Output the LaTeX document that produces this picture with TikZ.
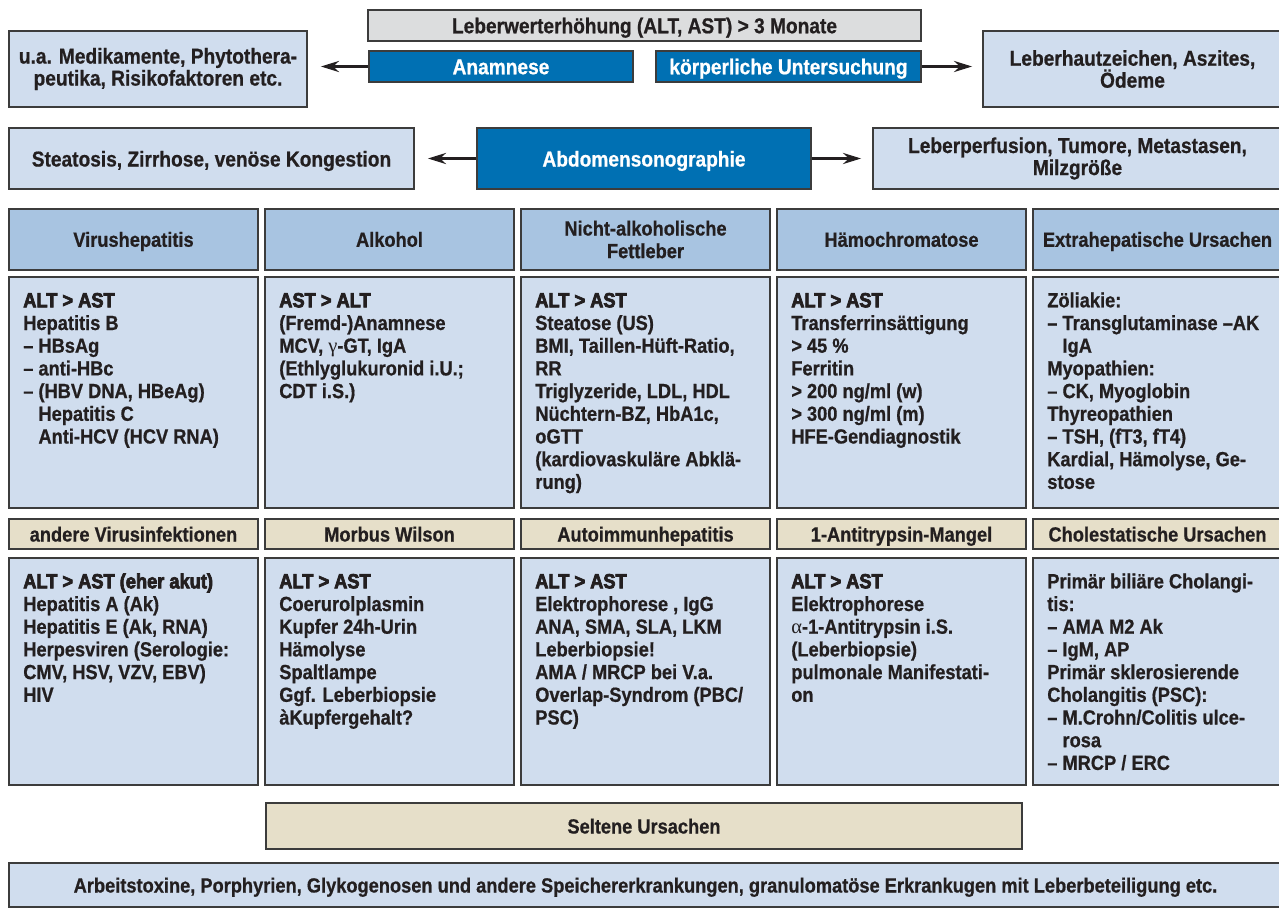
\documentclass[tikz,border=0pt]{standalone}
\usepackage{fontspec}
\setmainfont{Liberation Sans}[FakeStretch=0.89,BoldFeatures={FakeBold=0.7}]
\newfontfamily\heavy{Liberation Sans}[FakeStretch=0.89,UprightFont=* Bold,FakeBold=3.5]
\newfontfamily\grk{Liberation Serif}
\usetikzlibrary{arrows.meta,calc}
\definecolor{lblue}{HTML}{D0DDEE}
\definecolor{hblue}{HTML}{A8C4E1}
\definecolor{dblue}{HTML}{0070B3}
\definecolor{lgray}{HTML}{DCDDDE}
\definecolor{beige}{HTML}{E6DFC9}
\definecolor{bord}{HTML}{3C3C3C}
\definecolor{txt}{HTML}{231F20}
\newcommand\hv[1]{{\heavy\mdseries #1}}
\newcommand\gk[1]{{\grk\mdseries #1}}
\newcommand\mystrut{\rule{0pt}{16pt}}
\newcommand\ind{\phantom{– }}
\begin{document}
\begin{tikzpicture}[x=1pt,y=-1pt,
  sz/.style 2 args={minimum width=#1,minimum height=#2},
  one/.style={text height=#1,text depth=0pt},
  box/.style={draw=bord,line width=1.8pt,inner sep=0pt,text=txt,align=center,
     font=\fontsize{20.5}{22.6}\selectfont\bfseries},
  topbox/.style={box,font=\fontsize{21.5}{22}\selectfont\bfseries},
  lbox/.style={topbox,fill=lblue},
  dbox/.style={topbox,fill=dblue,text=white},
  gbox/.style={topbox,fill=lgray},
  hbox/.style={box,fill=hblue},
  bbox/.style={box,fill=beige},
  cbox/.style={box,fill=lblue},
  body/.style={inner sep=0pt,anchor=north west,align=left,text=txt,
     font=\fontsize{20.5}{22.7}\selectfont\bfseries},
  arr/.style={draw=txt,line width=3pt,-{Stealth[length=18pt,width=11pt]}}
]
\useasboundingbox (0,0) rectangle (1279,913);
% top section
\node[gbox,one=15.5pt,sz={553}{31}] (lw) at (644.5,25.5) {Leberwerterhöhung (ALT, AST) > 3 Monate};
\node[lbox,sz={298}{76}] (med) at (158,69) {u.a. Medikamente, Phytothera-\\peutika, Risikofaktoren etc.};
\node[dbox,one=15.5pt,sz={264}{31}] (anam) at (501,66.5) {Anamnese};
\node[dbox,one=15.5pt,sz={265}{31}] (koerp) at (788.5,66.5) {körperliche Untersuchung};
\node[lbox,sz={299}{76}] (haut) at (1132.5,69) {Leberhautzeichen, Aszites,\\Ödeme};
\node[lbox,one=16pt,sz={405}{61}] (steat) at (211.5,158.5) {Steatosis, Zirrhose, venöse Kongestion};
\node[dbox,one=16pt,sz={334}{61}] (abdo) at (644,158.5) {Abdomensonographie};
\node[lbox,sz={409}{61}] (perf) at (1077.5,158.5) {Leberperfusion, Tumore, Metastasen,\\Milzgröße};
\draw[arr,shorten >=13pt] (anam.west) -- (anam.west -| med.east);
\draw[arr,shorten >=10pt] (koerp.east) -- (koerp.east -| haut.west);
\draw[arr,shorten >=13pt] (abdo.west) -- (abdo.west -| steat.east);
\draw[arr,shorten >=11pt] (abdo.east) -- (abdo.east -| perf.west);
% header row 1
\node[hbox,one=14.5pt,sz={249}{61}] (h1) at (133.5,239.5) {Virushepatitis};
\node[hbox,one=14.5pt,sz={249}{61}] (h2) at (389.5,239.5) {Alkohol};
\node[hbox,sz={249}{61}] (h3) at (645.5,239.5) {Nicht-alkoholische\\Fettleber};
\node[hbox,one=14.5pt,sz={249}{61}] (h4) at (901.5,239.5) {Hämochromatose};
\node[hbox,one=14.5pt,sz={249}{61}] (h5) at (1157.5,239.5) {Extrahepatische Ursachen};
% body row 1
\node[cbox,sz={249}{231}] (b1) at (133.5,392.5) {};
\node[cbox,sz={249}{231}] (b2) at (389.5,392.5) {};
\node[cbox,sz={249}{231}] (b3) at (645.5,392.5) {};
\node[cbox,sz={249}{231}] (b4) at (901.5,392.5) {};
\node[cbox,sz={249}{231}] (b5) at (1157.5,392.5) {};
\node[body] (t1) at ($(b1.north west)+(15,15)$) {\mystrut\hv{ALT > AST}\\Hepatitis B\\– HBsAg\\– anti-HBc\\– (HBV DNA, HBeAg)\\\ind Hepatitis C\\\ind Anti-HCV (HCV RNA)};
\node[body] (t2) at ($(b2.north west)+(15,15)$) {\mystrut\hv{AST > ALT}\\(Fremd-)Anamnese\\MCV, \gk{γ}-GT, IgA\\(Ethlyglukuronid i.U.;\\CDT i.S.)};
\node[body] (t3) at ($(b3.north west)+(15,15)$) {\mystrut\hv{ALT > AST}\\Steatose (US)\\BMI, Taillen-Hüft-Ratio,\\RR\\Triglyzeride, LDL, HDL\\Nüchtern-BZ, HbA1c,\\oGTT\\(kardiovaskuläre Abklä-\\rung)};
\node[body] (t4) at ($(b4.north west)+(15,15)$) {\mystrut\hv{ALT > AST}\\Transferrinsättigung\\> 45 \%\\Ferritin\\> 200 ng/ml (w)\\> 300 ng/ml (m)\\HFE-Gendiagnostik};
\node[body] (t5) at ($(b5.north west)+(15,15)$) {\mystrut Zöliakie:\\– Transglutaminase –AK\\\ind IgA\\Myopathien:\\– CK, Myoglobin\\Thyreopathien\\– TSH, (fT3, fT4)\\Kardial, Hämolyse, Ge-\\stose};
% header row 2
\node[bbox,one=15pt,sz={249}{30}] (g1) at (133.5,534) {andere Virusinfektionen};
\node[bbox,one=15pt,sz={249}{30}] (g2) at (389.5,534) {Morbus Wilson};
\node[bbox,one=15pt,sz={249}{30}] (g3) at (645.5,534) {Autoimmunhepatitis};
\node[bbox,one=15pt,sz={249}{30}] (g4) at (901.5,534) {1-Antitrypsin-Mangel};
\node[bbox,one=15pt,sz={249}{30}] (g5) at (1157.5,534) {Cholestatische Ursachen};
% body row 2
\node[cbox,sz={249}{227}] (c1) at (133.5,671.5) {};
\node[cbox,sz={249}{227}] (c2) at (389.5,671.5) {};
\node[cbox,sz={249}{227}] (c3) at (645.5,671.5) {};
\node[cbox,sz={249}{227}] (c4) at (901.5,671.5) {};
\node[cbox,sz={249}{227}] (c5) at (1157.5,671.5) {};
\node[body] (u1) at ($(c1.north west)+(15,15)$) {\mystrut\hv{ALT > AST (eher akut)}\\Hepatitis A (Ak)\\Hepatitis E (Ak, RNA)\\Herpesviren (Serologie:\\CMV, HSV, VZV, EBV)\\HIV};
\node[body] (u2) at ($(c2.north west)+(15,15)$) {\mystrut\hv{ALT > AST}\\Coerurolplasmin\\Kupfer 24h-Urin\\Hämolyse\\Spaltlampe\\Ggf. Leberbiopsie\\àKupfergehalt?};
\node[body] (u3) at ($(c3.north west)+(15,15)$) {\mystrut\hv{ALT > AST}\\Elektrophorese , IgG\\ANA, SMA, SLA, LKM\\Leberbiopsie!\\AMA / MRCP bei V.a.\\Overlap-Syndrom (PBC/\\PSC)};
\node[body] (u4) at ($(c4.north west)+(15,15)$) {\mystrut\hv{ALT > AST}\\Elektrophorese\\\gk{α}-1-Antitrypsin i.S.\\(Leberbiopsie)\\pulmonale Manifestati-\\on};
\node[body] (u5) at ($(c5.north west)+(15,15)$) {\mystrut Primär biliäre Cholangi-\\tis:\\– AMA M2 Ak\\– IgM, AP\\Primär sklerosierende\\Cholangitis (PSC):\\– M.Crohn/Colitis ulce-\\\ind rosa\\– MRCP / ERC};
% bottom
\node[bbox,one=15pt,sz={756}{46}] (selt) at (644,826) {Seltene Ursachen};
\node[cbox,one=15pt,sz={1273}{44}] (arb) at (645.5,885) {Arbeitstoxine, Porphyrien, Glykogenosen und andere Speichererkrankungen, granulomatöse Erkrankugen mit Leberbeteiligung etc.};
\end{tikzpicture}
\end{document}
